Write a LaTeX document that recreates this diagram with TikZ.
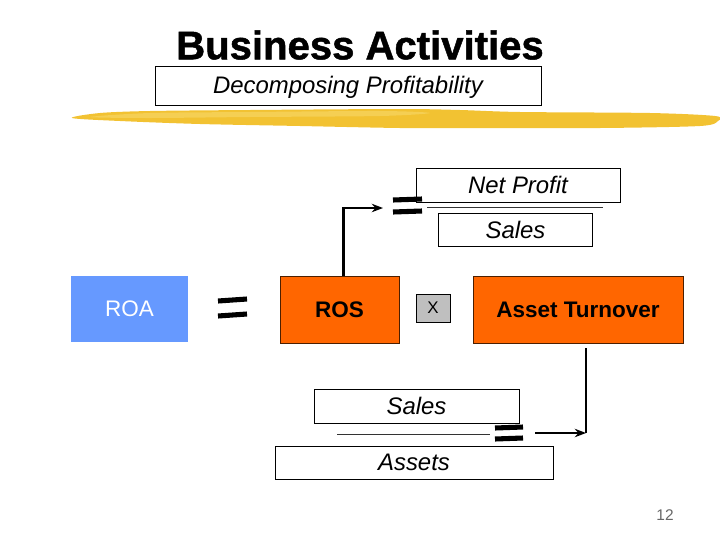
\documentclass[tikz,border=0pt]{standalone}
\usepackage{fontspec}
\setmainfont{Liberation Sans}
\newfontfamily\heavyfont[FakeBold=1.2]{Liberation Sans Bold}
\usepackage{xcolor}
\usetikzlibrary{arrows.meta, positioning, calc}

\definecolor{roablue}{HTML}{6699FF}
\definecolor{rosorange}{HTML}{FF6600}
\definecolor{brushyellow}{HTML}{F2C232}
\definecolor{brushlight}{HTML}{F7D86A}

\begin{document}
\begin{tikzpicture}[
    x=0.025cm, y=-0.025cm,
    fracbox/.style={draw=black, line width=0.6pt, fill=white, inner sep=0pt, font=\fontsize{17}{20}\selectfont\itshape},
    ratio/.style={inner sep=0pt, minimum width=2.975cm, minimum height=1.675cm, fill=rosorange, draw=black!70!rosorange, line width=0.6pt, font=\fontsize{16}{19}\selectfont\bfseries},
    eqbar/.style={line width=3.6pt, black},
    fracline/.style={line width=0.7pt, black!80},
    arrow/.style={-{Stealth[length=8pt, width=6pt]}, line width=2pt, black},
    conn/.style={line width=2pt, black}
]
\useasboundingbox (0,0) rectangle (720,540);

% Title and subtitle
\node[font=\fontsize{28.5}{32}\heavyfont] (title) at (360,45) {Business Activities};
\node[fracbox, minimum width=9.65cm, minimum height=0.975cm, text depth=0.05cm] (subtitle) at (348,85.5) {Decomposing Profitability};

% Yellow brush stroke
\fill[brushyellow] plot[smooth cycle] coordinates {(72,118) (100,113) (150,111) (250,110) (400,109) (460,110) (520,112) (650,113) (715,116) (718,121) (700,126) (600,128) (470,128) (400,128) (300,126) (200,124) (120,121)};
\fill[brushlight, opacity=0.6] plot[smooth cycle] coordinates {(90,117) (150,113) (250,112) (380,111) (430,113) (380,116) (250,117) (150,118)};

% Main row
\node[fill=roablue, inner sep=0pt, minimum width=2.925cm, minimum height=1.65cm, text=white, font=\fontsize{16}{19}\selectfont] (roa) at (129.5,309) {ROA};
\node[ratio] (ros) at (339.5,309.5) {ROS};
\node[draw=black, fill=black!25, line width=0.6pt, inner sep=0pt, minimum width=0.85cm, minimum height=0.7cm, font=\fontsize{12}{14}\selectfont] (times) at (433,308) {X};
\node[ratio, minimum width=5.25cm] (turnover) at (578,309.5) {Asset Turnover};

% Equals between ROA and ROS
\draw[eqbar] (218,301) -- (247,299);
\draw[eqbar] (218,316) -- (247,314);

% ROS fraction
\node[fracbox, minimum width=5.1cm, minimum height=0.85cm] (netprofit) at (518,185) {Net Profit};
\node[fracbox, minimum width=3.85cm, minimum height=0.825cm] (sales1) at (515.5,230) {Sales};
\draw[fracline] (427,207) -- (603,207);
\draw[eqbar] (393,200) -- (422,199);
\draw[eqbar] (393,212) -- (422,211);
\coordinate (eqtop) at (383,208);
\draw[arrow] ([xshift=0.09cm]ros.north) |- (eqtop);

% Asset turnover fraction
\node[fracbox, minimum width=5.125cm, minimum height=0.85cm] (sales2) at (416.5,406) {Sales};
\node[fracbox, minimum width=6.95cm, minimum height=0.825cm] (assets) at (414,462.5) {Assets};
\draw[fracline] (337,434) -- (490,434);
\draw[eqbar] (495,428) -- (523,427);
\draw[eqbar] (495,439) -- (523,438);
\coordinate (eqbot) at (535,433);
\coordinate (corner) at (586,433);
\draw[arrow] (eqbot) -- (corner);
\draw[conn] (corner) -- ([yshift=-0.12cm]corner |- turnover.south);

% Page number
\node[text=black!60, font=\fontsize{11}{13}\selectfont] (page) at (665,515) {12};

\end{tikzpicture}
\end{document}
